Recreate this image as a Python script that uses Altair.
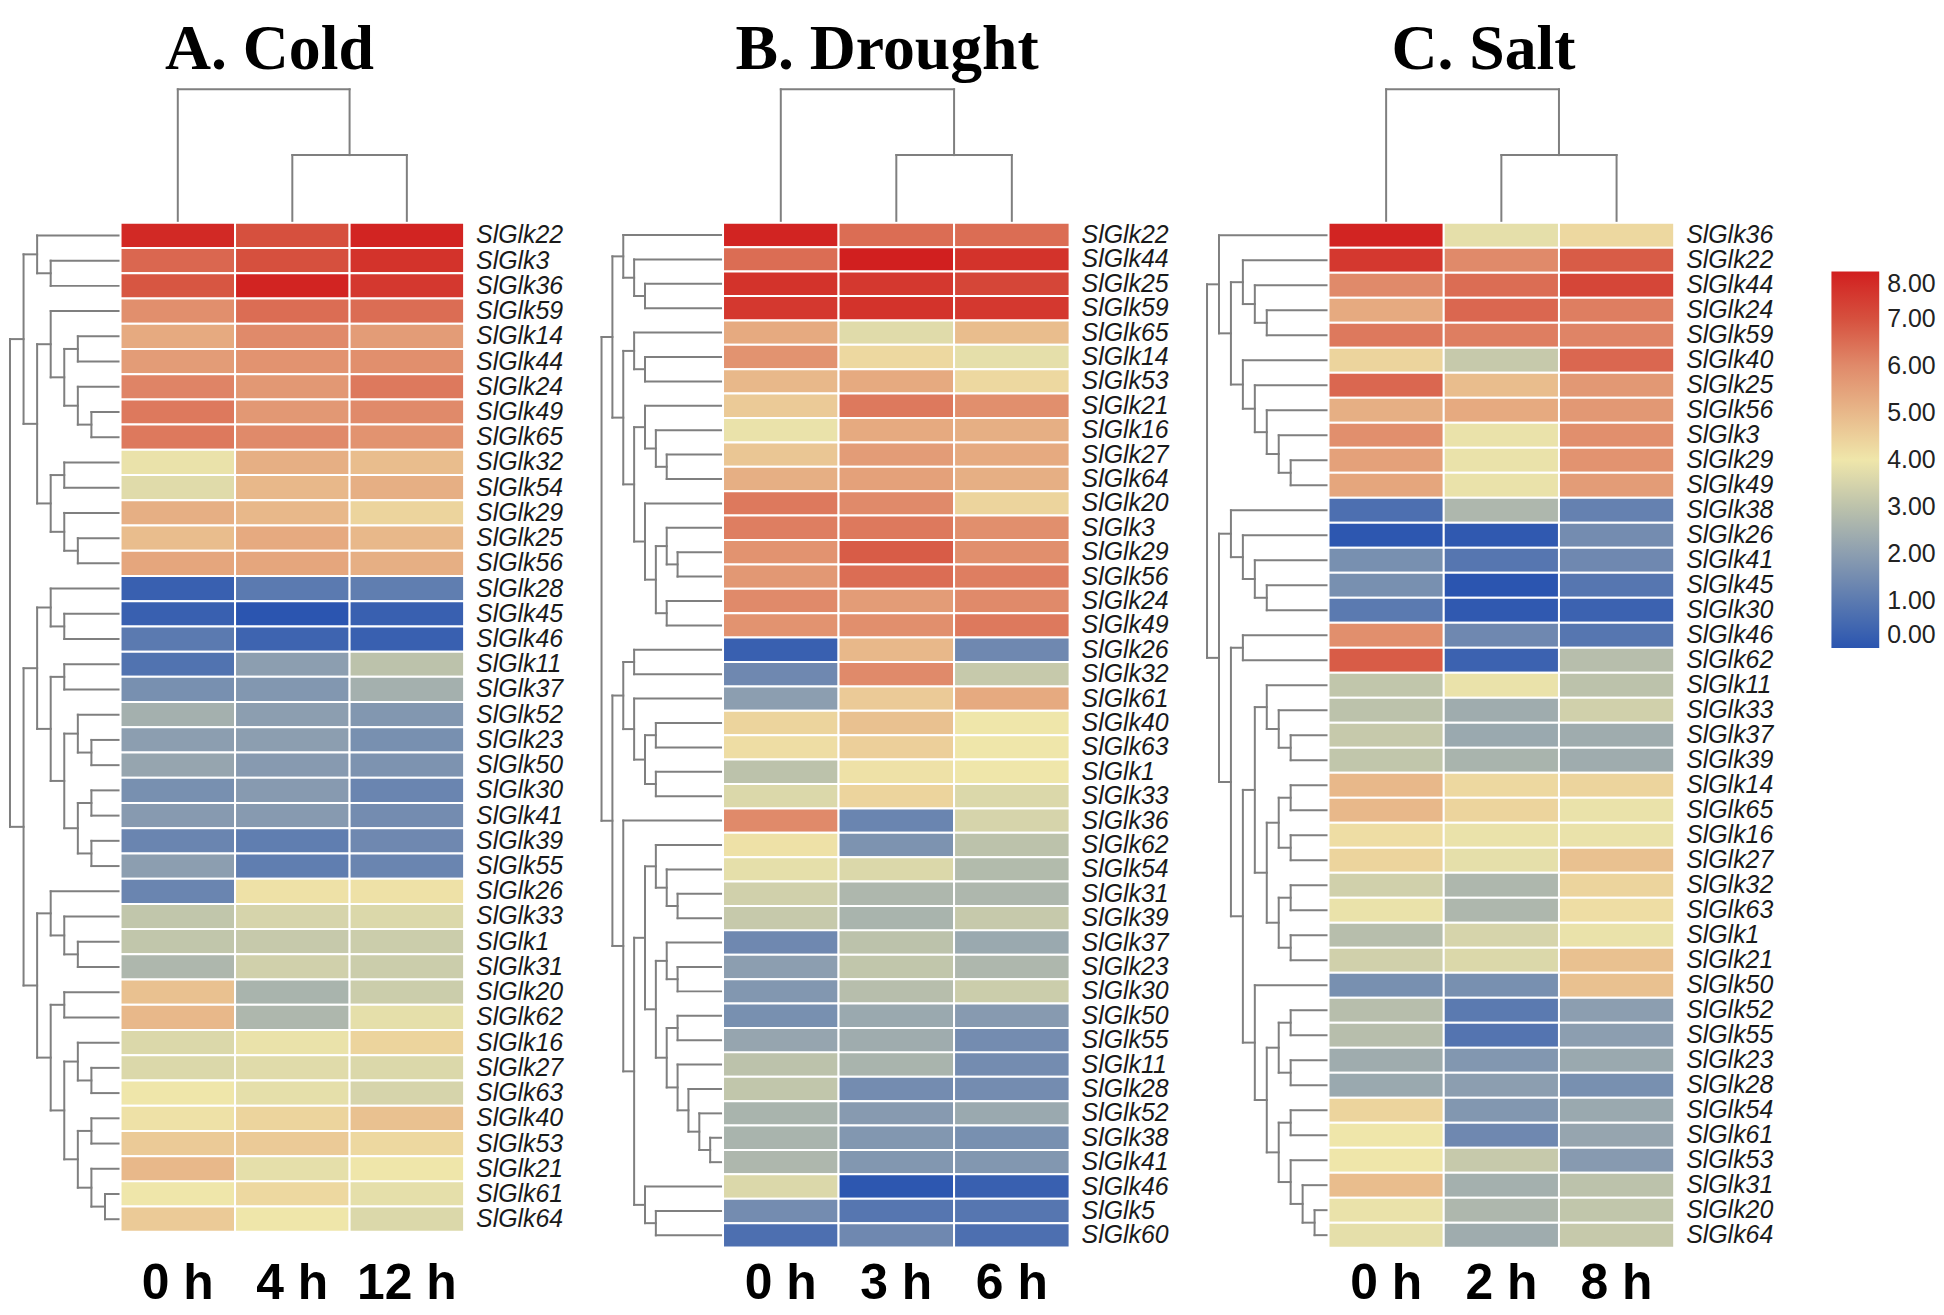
import altair as alt
import pandas as pd

# ---------------- data ----------------
COLD_GENES = ["SlGlk22", "SlGlk3", "SlGlk36", "SlGlk59", "SlGlk14", "SlGlk44", "SlGlk24", "SlGlk49",
              "SlGlk65", "SlGlk32", "SlGlk54", "SlGlk29", "SlGlk25", "SlGlk56", "SlGlk28", "SlGlk45",
              "SlGlk46", "SlGlk11", "SlGlk37", "SlGlk52", "SlGlk23", "SlGlk50", "SlGlk30", "SlGlk41",
              "SlGlk39", "SlGlk55", "SlGlk26", "SlGlk33", "SlGlk1", "SlGlk31", "SlGlk20", "SlGlk62",
              "SlGlk16", "SlGlk27", "SlGlk63", "SlGlk40", "SlGlk53", "SlGlk21", "SlGlk61", "SlGlk64"]
COLD_TIMES = ["0 h", "4 h", "12 h"]
COLD_0H = [7.8, 6.6, 6.9, 5.9, 5.3, 5.6, 6.1, 6.3, 6.3, 3.9, 3.7, 5.2, 4.9, 5.4, 0.3, 0.3, 1.0, 0.8, 1.6, 2.5,
           2.0, 2.2, 1.6, 1.9, 1.3, 2.0, 1.3, 3.1, 3.1, 2.7, 4.8, 5.0, 3.6, 3.6, 4.0, 4.1, 4.6, 5.0, 4.0, 4.6]
COLD_4H = [7.0, 7.0, 7.9, 6.5, 6.0, 5.8, 5.7, 5.7, 6.0, 5.2, 5.0, 5.0, 5.3, 5.4, 1.0, 0.0, 0.4, 2.0, 1.8, 2.0,
           2.0, 1.9, 1.9, 1.9, 1.1, 1.1, 4.1, 3.5, 3.2, 3.4, 2.6, 2.7, 3.9, 3.7, 3.8, 4.4, 4.6, 3.8, 4.3, 4.0]
COLD_12H = [7.9, 7.6, 7.5, 6.5, 5.6, 5.9, 6.3, 6.0, 5.8, 4.9, 5.2, 4.4, 5.0, 5.2, 1.1, 0.3, 0.3, 3.0, 2.5, 1.8,
            1.6, 1.7, 1.3, 1.5, 1.4, 1.3, 4.1, 3.6, 3.3, 3.3, 3.3, 3.8, 4.4, 3.6, 3.5, 4.8, 4.3, 4.0, 3.8, 3.6]
COLD_ROW_TREE = [
    [[0, [1, 2]], [[3, [[4, 5], [6, [7, 8]]]], [[9, 10], [11, [12, 13]]]]],
    [[[14, [15, 16]], [[17, 18], [[19, [20, 21]], [[22, 23], [24, 25]]]]],
     [[26, [27, [28, 29]]], [[30, 31], [[32, [33, 34]], [[35, 36], [37, [38, 39]]]]]]],
]

DROUGHT_GENES = ["SlGlk22", "SlGlk44", "SlGlk25", "SlGlk59", "SlGlk65", "SlGlk14", "SlGlk53", "SlGlk21",
                 "SlGlk16", "SlGlk27", "SlGlk64", "SlGlk20", "SlGlk3", "SlGlk29", "SlGlk56", "SlGlk24",
                 "SlGlk49", "SlGlk26", "SlGlk32", "SlGlk61", "SlGlk40", "SlGlk63", "SlGlk1", "SlGlk33",
                 "SlGlk36", "SlGlk62", "SlGlk54", "SlGlk31", "SlGlk39", "SlGlk37", "SlGlk23", "SlGlk30",
                 "SlGlk50", "SlGlk55", "SlGlk11", "SlGlk28", "SlGlk52", "SlGlk38", "SlGlk41", "SlGlk46",
                 "SlGlk5", "SlGlk60"]
DROUGHT_TIMES = ["0 h", "3 h", "6 h"]
DROUGHT_0H = [7.9, 6.5, 7.6, 7.5, 5.3, 5.8, 5.0, 4.6, 3.9, 4.7, 5.2, 6.3, 6.2, 5.8, 5.7, 6.0, 5.8, 0.3, 1.4,
              2.0, 4.4, 4.2, 3.0, 3.6, 6.0, 4.1, 3.8, 3.4, 3.2, 1.4, 2.0, 1.8, 1.6, 2.2, 3.0, 3.1, 2.6, 2.6,
              2.7, 3.6, 1.5, 0.7]
DROUGHT_3H = [6.5, 8.0, 7.5, 7.6, 3.7, 4.3, 5.3, 6.3, 5.3, 5.6, 5.5, 6.0, 6.3, 6.8, 6.5, 5.6, 5.9, 5.0, 6.0,
              4.6, 4.8, 4.5, 4.1, 4.4, 1.3, 1.7, 3.6, 2.7, 2.6, 3.0, 3.1, 2.9, 2.3, 2.4, 2.6, 1.5, 1.9, 1.8,
              1.8, 0.05, 0.9, 1.4]
DROUGHT_6H = [6.5, 7.6, 7.2, 7.5, 4.9, 3.8, 4.3, 5.9, 5.2, 5.3, 5.2, 4.4, 5.9, 5.9, 6.2, 6.0, 6.3, 1.4, 3.2,
              5.3, 4.0, 4.0, 4.0, 3.6, 3.5, 3.0, 2.8, 2.7, 3.2, 2.3, 2.7, 3.3, 1.9, 1.5, 1.5, 1.5, 2.3, 1.6,
              1.8, 0.3, 0.9, 0.7]
DROUGHT_ROW_TREE = [
    [[0, [1, [2, 3]]], [[4, [5, 6]], [[7, [8, [9, 10]]], [11, [[12, [13, 14]], [15, 16]]]]]],
    [[[17, 18], [19, [[20, 21], [22, 23]]]],
     [24, [[[25, [26, [27, 28]]], [[29, [30, 31]], [[32, 33], [34, [35, [36, [37, 38]]]]]]],
           [39, [40, 41]]]]],
]

SALT_GENES = ["SlGlk36", "SlGlk22", "SlGlk44", "SlGlk24", "SlGlk59", "SlGlk40", "SlGlk25", "SlGlk56",
              "SlGlk3", "SlGlk29", "SlGlk49", "SlGlk38", "SlGlk26", "SlGlk41", "SlGlk45", "SlGlk30",
              "SlGlk46", "SlGlk62", "SlGlk11", "SlGlk33", "SlGlk37", "SlGlk39", "SlGlk14", "SlGlk65",
              "SlGlk16", "SlGlk27", "SlGlk32", "SlGlk63", "SlGlk1", "SlGlk21", "SlGlk50", "SlGlk52",
              "SlGlk55", "SlGlk23", "SlGlk28", "SlGlk54", "SlGlk61", "SlGlk53", "SlGlk31", "SlGlk20",
              "SlGlk64"]
SALT_TIMES = ["0 h", "2 h", "8 h"]
SALT_0H = [7.9, 7.5, 6.0, 5.3, 6.3, 4.4, 6.6, 5.2, 5.9, 5.5, 5.4, 0.7, 0.05, 1.6, 1.6, 1.0, 5.9, 6.8, 3.1,
           3.0, 3.2, 3.1, 5.0, 5.0, 4.2, 4.4, 3.4, 3.9, 2.9, 3.4, 1.6, 2.9, 2.9, 2.4, 2.3, 4.4, 4.0, 4.0,
           4.9, 3.9, 3.8]
SALT_2H = [3.8, 6.0, 6.5, 6.6, 6.2, 3.2, 4.9, 5.3, 3.9, 3.9, 3.9, 2.7, 0.1, 0.9, 0.0, 0.1, 1.4, 0.35, 3.9,
           2.4, 2.3, 2.6, 4.3, 4.4, 3.9, 3.8, 2.7, 2.7, 3.5, 3.6, 1.6, 1.0, 0.85, 1.8, 2.0, 1.8, 1.4, 3.2,
           2.5, 2.7, 2.4]
SALT_8H = [4.3, 6.8, 7.2, 6.2, 6.1, 6.6, 5.7, 5.7, 5.9, 5.8, 5.6, 1.2, 1.5, 1.4, 0.9, 0.35, 0.9, 2.9, 3.0,
           3.4, 2.4, 2.4, 4.4, 3.9, 3.9, 4.8, 4.4, 4.2, 3.9, 4.8, 4.8, 2.0, 2.0, 2.3, 1.6, 2.3, 2.2, 1.9,
           3.0, 3.1, 3.2]
SALT_ROW_TREE = [
    [0, [[1, [2, [3, 4]]], [5, [6, [7, [8, [9, 10]]]]]]],
    [[11, [12, [13, [14, 15]]]],
     [[16, 17], [[[18, [19, [20, 21]]], [[[22, 23], [24, 25]], [[26, 27], [28, 29]]]],
                 [30, [[[31, 32], [33, 34]], [[35, 36], [37, [38, [39, 40]]]]]]]]],
]

COL_TREE = [0, [1, 2]]

COLOR_DOMAIN = [0, 1, 2, 3, 4, 5, 6, 7, 8]
COLOR_RANGE = ["#2b55b0", "#5b7ab0", "#8c9eb0", "#bcc2ab", "#efe6aa",
               "#e8b88a", "#e08a6a", "#d6503e", "#d11f1f"]
LEGEND_VALUES = [0, 1, 2, 3, 4, 5, 6, 7, 8]

# ---------------- layout (page pixels) ----------------
PAGE = 8
HEAT_TOP = 221
PLOT_H = 1295
COLDEN_ROOT = 87
COLDEN_LEAF_END = 219
TITLE_BASE = 67
TIME_BASE = 1302
LINE = "#7f7f7f"

cscale = alt.Scale(domain=COLOR_DOMAIN, range=COLOR_RANGE, interpolate="rgb")
legend = alt.Legend(orient="none", legendX=1830, legendY=262, direction="vertical",
                    gradientLength=378, gradientThickness=48, values=LEGEND_VALUES,
                    format=".2f", labelFontSize=25, labelFont="Liberation Sans",
                    labelColor="#222222", labelOffset=8, labelBaseline="middle", title=None,
                    gradientStrokeWidth=0, padding=0)


def max_depth(t, d=0):
    if isinstance(t, int):
        return -1
    return max(d, max_depth(t[0], d + 1), max_depth(t[1], d + 1))


def tree_segments(tree):
    """Returns segments in (depth, position) coordinates; leaves sit at depth md+1."""
    md = max_depth(tree)
    segs = []

    def walk(t, d):
        if isinstance(t, int):
            return t + 0.5, md + 1
        p1, d1 = walk(t[0], d + 1)
        p2, d2 = walk(t[1], d + 1)
        segs.append((d, d, p1, p2))
        segs.append((d, d1, p1, p1))
        segs.append((d, d2, p2, p2))
        return (p1 + p2) / 2, d

    walk(tree, 0)
    return segs, md


def make_panel(genes, times, series, row_tree, title, plot_left, plot_w, heat_left,
               col_px, pitch, dend_w_px, title_cx):
    xmin = (plot_left - heat_left) / col_px
    xmax = xmin + plot_w / col_px
    ymin = (PAGE - HEAT_TOP) / pitch
    ymax = ymin + PLOT_H / pitch
    xs = alt.Scale(domain=[xmin, xmax], nice=False, zero=False)
    ys = alt.Scale(domain=[ymin, ymax], nice=False, zero=False, reverse=True)

    # heatmap cells
    rows = []
    for c, (t, vals) in enumerate(zip(times, series)):
        for r, (g, v) in enumerate(zip(genes, vals)):
            rows.append(dict(gene=g, time=t, value=v, x0=c, x1=c + 1, y0=r, y1=r + 1))
    cells = pd.DataFrame(rows)

    # row dendrogram
    segs, md = tree_segments(row_tree)
    gap = 2 / col_px
    dw = dend_w_px / col_px

    def dx(d):
        return -gap - dw * (1 - d / (md + 1))

    rseg = pd.DataFrame([dict(x=dx(a), x2=dx(b), y=p, y2=q) for a, b, p, q in segs])

    # column dendrogram
    csegs, cmd = tree_segments(COL_TREE)
    leaf_end = (COLDEN_LEAF_END - HEAT_TOP) / pitch
    ch = (COLDEN_LEAF_END - COLDEN_ROOT) / pitch

    def dy(d):
        return leaf_end - ch * (1 - d / (cmd + 1))

    cseg = pd.DataFrame([dict(x=p, x2=q, y=dy(a), y2=dy(b)) for a, b, p, q in csegs])
    seg = pd.concat([rseg, cseg], ignore_index=True)

    labels = pd.DataFrame(dict(gene=genes, x=[3 + 12 / col_px] * len(genes),
                               y=[r + 0.5 for r in range(len(genes))]))
    tlabels = pd.DataFrame(dict(time=times, x=[c + 0.5 for c in range(len(times))],
                                y=[(TIME_BASE - HEAT_TOP) / pitch] * len(times)))
    tdf = pd.DataFrame(dict(title=[title], x=[title_cx], y=[(TITLE_BASE - HEAT_TOP) / pitch]))

    X = lambda f: alt.X(f, scale=xs, axis=None)
    Y = lambda f: alt.Y(f, scale=ys, axis=None)

    heat = alt.Chart(cells).mark_rect(stroke="white", strokeWidth=2).encode(
        x=X("x0:Q"), x2="x1:Q", y=Y("y0:Q"), y2="y1:Q",
        color=alt.Color("value:Q", scale=cscale, legend=legend))
    dend = alt.Chart(seg).mark_rule(color=LINE, strokeWidth=2, strokeCap="square").encode(
        x=X("x:Q"), x2="x2:Q", y=Y("y:Q"), y2="y2:Q")
    glab = alt.Chart(labels).mark_text(align="left", baseline="middle", fontSize=25,
                                       font="Liberation Sans", fontStyle="italic",
                                       color="#1a1a1a").encode(
        x=X("x:Q"), y=Y("y:Q"), text="gene:N")
    tlab = alt.Chart(tlabels).mark_text(align="center", baseline="alphabetic", fontSize=50,
                                        font="Liberation Sans", fontWeight="bold",
                                        color="black").encode(
        x=X("x:Q"), y=Y("y:Q"), text="time:N")
    ttl = alt.Chart(tdf).mark_text(align="center", baseline="alphabetic", fontSize=64,
                                   font="Liberation Serif", fontWeight="bold",
                                   color="black").encode(
        x=X("x:Q"), y=Y("y:Q"), text="title:N")

    return alt.layer(heat, dend, glab, tlab, ttl).properties(width=plot_w, height=PLOT_H)


pa = make_panel(COLD_GENES, COLD_TIMES, [COLD_0H, COLD_4H, COLD_12H], COLD_ROW_TREE,
                "A. Cold", 8, 595, 120, 115.0, 25.33, 109, 1.30)
pb = make_panel(DROUGHT_GENES, DROUGHT_TIMES, [DROUGHT_0H, DROUGHT_3H, DROUGHT_6H], DROUGHT_ROW_TREE,
                "B. Drought", 603, 608, 725, 116.0, 24.5, 120, 1.42)
pc = make_panel(SALT_GENES, SALT_TIMES, [SALT_0H, SALT_2H, SALT_8H], SALT_ROW_TREE,
                "C. Salt", 1211, 590, 1333, 115.7, 25.1, 120, 1.345)

chart = alt.hconcat(pa, pb, pc, spacing=0, bounds="flush").resolve_scale(
    x="independent", y="independent", color="shared"
).properties(padding=0, background="white").configure_view(strokeWidth=0)

chart.save("out.html", embed_options={"renderer": "svg", "actions": False})
